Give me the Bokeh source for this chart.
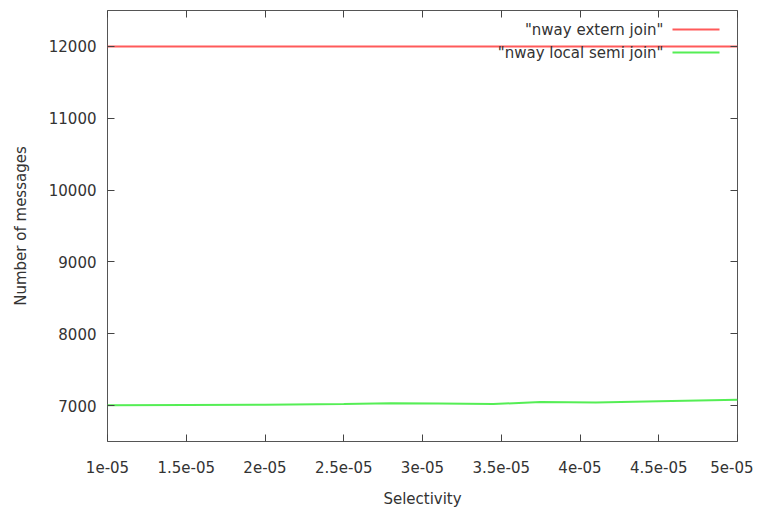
from bokeh.plotting import figure
from bokeh.models import (Range1d, FixedTicker, LinearAxis, Label, BoxAnnotation,
                          CustomLabelingPolicy)
from bokeh.embed import file_html
from bokeh.resources import INLINE

# ---- data ----
x_ticks = [1.0e-05, 1.5e-05, 2.0e-05, 2.5e-05, 3.0e-05, 3.5e-05, 4.0e-05, 4.5e-05, 5.0e-05]
x_tick_labels = ["1e-05", "1.5e-05", "2e-05", "2.5e-05", "3e-05", "3.5e-05", "4e-05", "4.5e-05", "5e-05"]
y_ticks = [7000, 8000, 9000, 10000, 11000, 12000]

extern_x = [1.0e-05, 5.0e-05]
extern_y = [12000, 12000]

semi_x = [1.0e-05, 1.5e-05, 2.0e-05, 2.5e-05, 2.8e-05, 3.1e-05, 3.45e-05, 3.75e-05, 4.1e-05, 4.5e-05, 5.0e-05]
semi_y = [7005, 7008, 7012, 7022, 7032, 7030, 7022, 7050, 7042, 7060, 7082]

series_names = ['"nway extern join"', '"nway local semi join"']
series_colors = ["#ff5a5a", "#55ee55"]

FONT = "DejaVu Sans"
TXT = "#333333"

p = figure(width=753, height=510, output_backend="svg", toolbar_location=None,
           x_range=Range1d(1.0e-05, 5.0e-05), y_range=Range1d(6500, 12500),
           min_border_left=107, min_border_right=16, min_border_top=10, min_border_bottom=69)
p.grid.visible = False
p.outline_line_color = "#555555"
p.outline_line_width = 1
p.background_fill_color = "white"
p.border_fill_color = "white"

p.line(extern_x, extern_y, line_color=series_colors[0], line_width=2)
p.line(semi_x, semi_y, line_color=series_colors[1], line_width=2)

def style(ax, fs="15px"):
    ax.axis_line_color = None
    ax.major_tick_in = 7
    ax.major_tick_out = 0
    ax.minor_tick_in = 0
    ax.minor_tick_out = 0
    ax.major_tick_line_color = "#444444"
    ax.major_label_text_font = FONT
    ax.major_label_text_color = TXT
    ax.major_label_text_font_size = fs
    ax.axis_label_text_font = FONT
    ax.axis_label_text_color = TXT
    ax.axis_label_text_font_style = "normal"
    ax.axis_label_text_font_size = "15px"

xa = p.xaxis[0]
xa.ticker = FixedTicker(ticks=x_ticks)
xa.major_label_overrides = {t: l for t, l in zip(x_ticks, x_tick_labels)}
xa.axis_label = "Selectivity"
style(xa)
xa.major_label_standoff = 19
xa.axis_label_standoff = 14

ya = p.yaxis[0]
ya.ticker = FixedTicker(ticks=y_ticks)
ya.axis_label = "Number of messages"
style(ya)
ya.major_label_standoff = 11
ya.axis_label_standoff = 16

# mirrored tick marks (gnuplot style), no labels
top = LinearAxis(ticker=FixedTicker(ticks=x_ticks),
                 major_label_policy=CustomLabelingPolicy(code="return new Set()"))
style(top, "0px")
top.major_label_standoff = 0
p.add_layout(top, "above")
right = LinearAxis(ticker=FixedTicker(ticks=y_ticks),
                   major_label_policy=CustomLabelingPolicy(code="return new Set()"))
style(right, "0px")
right.major_label_standoff = 0
p.add_layout(right, "right")

# legend (gnuplot style: label right-aligned, sample to the right)
rows_y = [412, 389]
for name, col, yy in zip(series_names, series_colors, rows_y):
    p.add_layout(Label(x=556, y=yy, x_units="screen", y_units="screen", text=name,
                       text_align="right", text_baseline="middle", text_font=FONT,
                       text_font_size="15px", text_color=TXT))
    p.add_layout(BoxAnnotation(left=565, right=612, bottom=yy - 1, top=yy + 1,
                               left_units="screen", right_units="screen",
                               bottom_units="screen", top_units="screen",
                               fill_color=col, fill_alpha=1.0, line_color=None))

open("out.html", "w").write(file_html(p, INLINE))
